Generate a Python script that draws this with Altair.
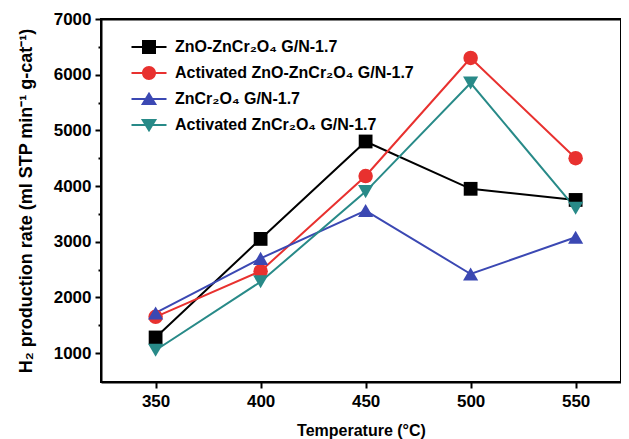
import altair as alt
import pandas as pd

temps = [350, 400, 450, 500, 550]
series_names = [
    "ZnO-ZnCr₂O₄ G/N-1.7",
    "Activated ZnO-ZnCr₂O₄ G/N-1.7",
    "ZnCr₂O₄ G/N-1.7",
    "Activated ZnCr₂O₄ G/N-1.7",
]
zno_zncr = [1280, 3050, 4800, 3950, 3750]
act_zno_zncr = [1650, 2470, 4180, 6300, 4500]
zncr = [1720, 2700, 3560, 2420, 3080]
act_zncr = [1050, 2280, 3900, 5850, 3600]
values = [zno_zncr, act_zno_zncr, zncr, act_zncr]

X_MIN, X_MAX = 324, 571.6
Y_MIN, Y_MAX = 480, 7000

colors = ["#000000", "#e8312f", "#3b48b3", "#288a88"]
shapes = ["square", "circle", "triangle-up", "triangle-down"]
line_bar = "M-2.5,-0.14H2.5V0.14H-2.5Z"
legend_paths = [
    line_bar + "M-1,-1H1V1H-1Z",
    line_bar + "M1,0A1,1,0,1,1,-1,0A1,1,0,1,1,1,0Z",
    line_bar + "M0,-1.05L1.15,0.85L-1.15,0.85Z",
    line_bar + "M0,1.05L-1.15,-0.85L1.15,-0.85Z",
]
marker_sizes = [190, 210, 230, 230]

rows = []
for name, vals in zip(series_names, values):
    for t, v in zip(temps, vals):
        rows.append({"series": name, "T": t, "rate": v})
df = pd.DataFrame(rows)

FONT = "Liberation Sans"
W, H = 520, 363

x_scale = alt.Scale(domain=[X_MIN, X_MAX], nice=False, zero=False)
y_scale = alt.Scale(domain=[Y_MIN, Y_MAX], nice=False, zero=False)

x_enc = alt.X("T:Q", scale=x_scale,
              axis=alt.Axis(values=temps, title="Temperature (°C)", tickSize=6,
                            labelPadding=5, titlePadding=13, titleFontSize=16, grid=False))
y_enc = alt.Y("rate:Q", scale=y_scale,
              axis=alt.Axis(values=list(range(1000, 7001, 500)),
                            labelExpr="datum.value % 1000 === 0 ? datum.label : ''",
                            format="d",
                            tickSize={"condition": {"test": "datum.value % 1000 === 0", "value": 6}, "value": 3},
                            title="H₂ production rate (ml STP min⁻¹ g-cat⁻¹)",
                            titleFontSize=18,
                            labelPadding=4, titlePadding=18, grid=False))
x_top = alt.X("T:Q", scale=x_scale,
              axis=alt.Axis(orient="top", labels=False, ticks=False, title=None, grid=False,
                            domain=True, domainColor="#000000", domainWidth=2))
y_right = alt.Y("rate:Q", scale=y_scale,
                axis=alt.Axis(orient="right", labels=False, ticks=False, title=None, grid=False,
                              domain=True, domainColor="#000000", domainWidth=2))
x_none = alt.X("T:Q", scale=x_scale, axis=None)
y_none = alt.Y("rate:Q", scale=y_scale, axis=None)

color_scale = alt.Scale(domain=series_names, range=colors)

base = alt.Chart(df)

legend = alt.Legend(
    title=None, orient="none", legendX=40, legendY=20, padding=0,
    labelFont=FONT, labelFontSize=16, labelFontWeight="bold", labelColor="#000",
    labelOffset=18, rowPadding=10, symbolSize=196, symbolStrokeWidth=0,
    symbolOpacity=1, labelLimit=400,
)
legend_layer = (
    base.transform_filter("datum.T < 0")
    .mark_point(filled=True, opacity=1, strokeWidth=0)
    .encode(
        x=x_none, y=y_none,
        color=alt.Color("series:N", scale=color_scale, legend=legend),
        shape=alt.Shape("series:N", scale=alt.Scale(domain=series_names, range=legend_paths), legend=legend),
    )
)

lines = base.mark_line(strokeWidth=2).encode(
    x=x_enc, y=y_enc,
    color=alt.Color("series:N", scale=color_scale, legend=None),
    detail="series:N",
)

frame_layer = base.mark_line(strokeWidth=2, opacity=0).encode(
    x=x_top, y=y_right,
    color=alt.Color("series:N", scale=color_scale, legend=None),
    detail="series:N",
)

layers = [legend_layer, lines, frame_layer]
for name, shp, sz in zip(series_names, shapes, marker_sizes):
    layers.append(
        base.transform_filter(alt.datum.series == name)
        .mark_point(shape=shp, filled=True, size=sz, opacity=1, strokeWidth=0)
        .encode(x=x_none, y=y_none,
                color=alt.Color("series:N", scale=color_scale, legend=None))
    )

chart = (
    alt.layer(*layers)
    .resolve_axis(x="independent", y="independent")
    .properties(width=W, height=H, background="#ffffff",
                autosize=alt.AutoSizeParams(type="none"),
                padding={"left": 93, "top": 11, "right": 0, "bottom": 58})
    .configure_view(stroke="#000000", strokeWidth=2)
    .configure_axis(domainColor="#000", domainWidth=2, tickColor="#000", tickWidth=2,
                    labelFont=FONT, labelFontSize=17, labelFontWeight="bold", labelColor="#000",
                    titleFont=FONT, titleFontSize=15, titleFontWeight="bold", titleColor="#000")
)

chart.save("out.html", embed_options={"renderer": "svg", "actions": False})
